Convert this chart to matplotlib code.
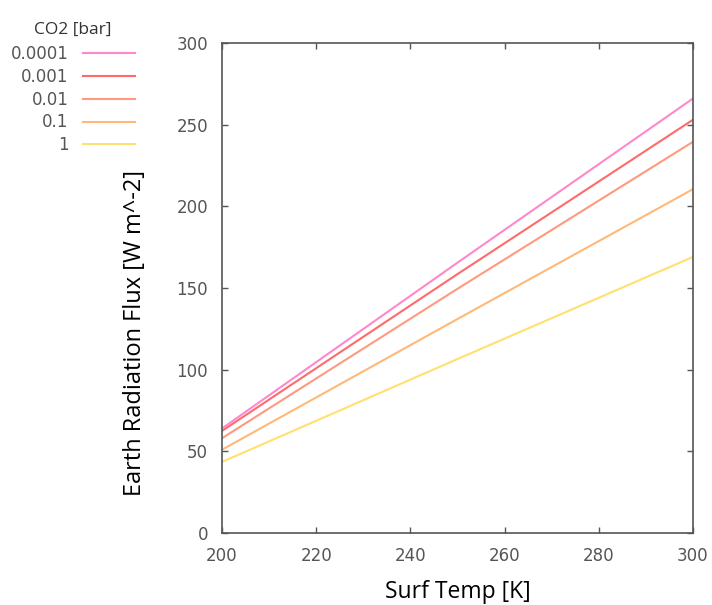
import numpy as np
import matplotlib
matplotlib.use("Agg")
import matplotlib.pyplot as plt

plt.rcParams['font.family'] = ['DejaVu Sans']

surf_temp = [200, 250, 300]
co2_labels = ['0.0001', '0.001', '0.01', '0.1', '1']
flux = [
    [64, 165.5, 266],
    [62.5, 158.5, 253],
    [58, 149.5, 239.5],
    [51, 131, 210.5],
    [43.5, 106.5, 169],
]
colors = ['#ff88cc', '#ff6a6a', '#ff9a80', '#ffb878', '#ffe070']

fig = plt.figure(figsize=(7.12, 6.05), dpi=100)
ax = fig.add_axes([0.3118, 0.119, 0.6615, 0.81])

for lab, vals, c in zip(co2_labels, flux, colors):
    ax.plot(surf_temp, vals, color=c, lw=1.5, label=lab)

ax.set_xlim(200, 300)
ax.set_ylim(0, 300)
ax.set_xticks(np.arange(200, 301, 20))
ax.set_yticks(np.arange(0, 301, 50))
ax.tick_params(direction='in', top=True, right=True, length=4, width=1,
               colors='#555555', labelsize=12, pad=10)
for sp in ax.spines.values():
    sp.set_color('#555555')
    sp.set_linewidth(1.2)

lab_font = {'family': ['Open Sans', 'DejaVu Sans'], 'size': 16.5}
ax.set_xlabel('Surf Temp [K]', fontdict=lab_font, labelpad=11)
ax.set_ylabel('Earth Radiation Flux [W m^-2]', fontdict=dict(lab_font, size=17))
ax.yaxis.set_label_coords(-0.16, 0.408)

leg = ax.legend(loc='upper right', bbox_to_anchor=(135 / 712, 1 - 22 / 605),
                bbox_transform=fig.transFigure, frameon=False, borderpad=0,
                borderaxespad=0, markerfirst=False, handlelength=3.1,
                handletextpad=0.9, labelspacing=0.29, fontsize=12,
                title='CO2 [bar]',
                title_fontproperties={'family': ['Open Sans', 'DejaVu Sans'], 'size': 12.5})
leg._legend_box.sep = 5
leg.get_title().set_color('#333333')
for t in leg.get_texts():
    t.set_color('#555555')

fig.savefig('out.png', dpi=100)
